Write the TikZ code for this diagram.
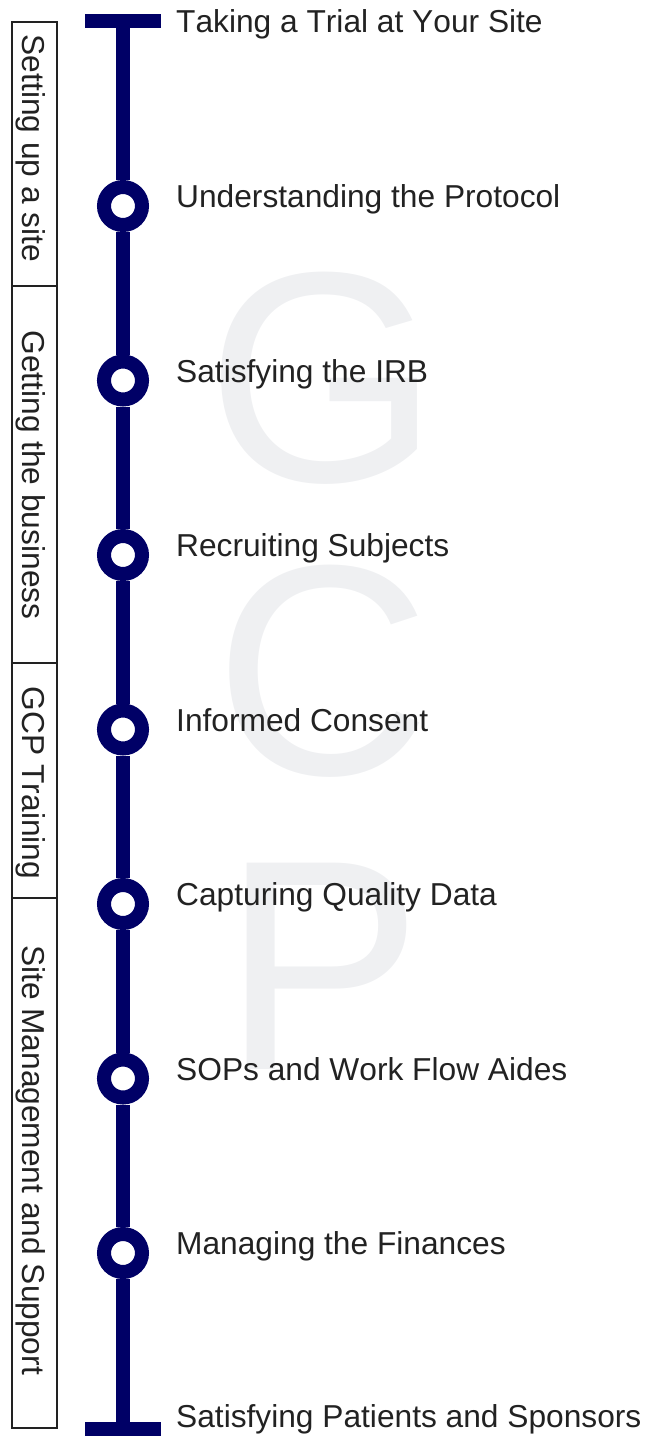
\documentclass[tikz,border=0pt]{standalone}
\usepackage{fontspec}
\setmainfont[Kerning=Off]{Liberation Sans}
\definecolor{navy}{RGB}{0,0,102}
\definecolor{txt}{RGB}{34,34,34}
\definecolor{wm}{RGB}{239,240,242}
\begin{document}
\begin{tikzpicture}[x=1pt,y=-1pt,
  lbl/.style={anchor=base west, inner sep=0, text=txt, font=\fontsize{31.7}{36}\selectfont},
  side/.style={rotate=-90, anchor=base, inner sep=0, text=txt, font=\fontsize{31.7}{36}\selectfont},
  ring/.style={circle, draw=navy, line width=14pt, fill=white, minimum size=38pt, inner sep=0},
  bar/.style={rectangle, fill=navy, minimum width=76pt, minimum height=14pt, inner sep=0, outer sep=0},
  spine/.style={draw=navy, line width=14pt},
  wmark/.style={anchor=base, inner sep=0, text=wm, font=\fontsize{300}{300}\selectfont},
  sect/.style={draw=txt, line width=2pt}]
\useasboundingbox (0,0) rectangle (646,1441);
% watermark
\node[wmark] (wg) at (323,481) {G};
\node[wmark] (wc) at (323,774) {C};
\node[wmark] (wp) at (323,1069) {P};
% side sections
\draw[sect] (12,22) rectangle (56.5,286);
\draw[sect] (12,286) rectangle (56.5,663);
\draw[sect] (12,663) rectangle (56.5,898);
\draw[sect] (12,898) rectangle (56.5,1428);
\node[side] (s1) at (23,148.5) {Setting up a site};
\node[side] (s2) at (23,475) {Getting the business};
\node[side] (s3) at (23,783) {GCP Training};
\node[side] (s4) at (23,1160) {Site Management and Support};
% timeline
\node[bar] (top) at (123,21) {};
\node[bar] (bot) at (123,1429) {};
\node[ring] (c1) at (123,206) {};
\node[ring] (c2) at (123,380.5) {};
\node[ring] (c3) at (123,555) {};
\node[ring] (c4) at (123,729.5) {};
\node[ring] (c5) at (123,904) {};
\node[ring] (c6) at (123,1078.5) {};
\node[ring] (c7) at (123,1253) {};
\draw[spine] (top) -- (c1);
\draw[spine] (c1) -- (c2);
\draw[spine] (c2) -- (c3);
\draw[spine] (c3) -- (c4);
\draw[spine] (c4) -- (c5);
\draw[spine] (c5) -- (c6);
\draw[spine] (c6) -- (c7);
\draw[spine] (c7) -- (bot);
% labels
\node[lbl] (l0) at (176,32) {Taking a Trial at Your Site};
\node[lbl] (l1) at (176,207.5) {Understanding the Protocol};
\node[lbl] (l2) at (176,382) {Satisfying the IRB};
\node[lbl] (l3) at (176,556.5) {Recruiting Subjects};
\node[lbl] (l4) at (176,731) {Informed Consent};
\node[lbl] (l5) at (176,905.5) {Capturing Quality Data};
\node[lbl] (l6) at (176,1080) {SOPs and Work Flow Aides};
\node[lbl] (l7) at (176,1254.5) {Managing the Finances};
\node[lbl] (l8) at (176,1427) {Satisfying Patients and Sponsors};
\end{tikzpicture}
\end{document}
